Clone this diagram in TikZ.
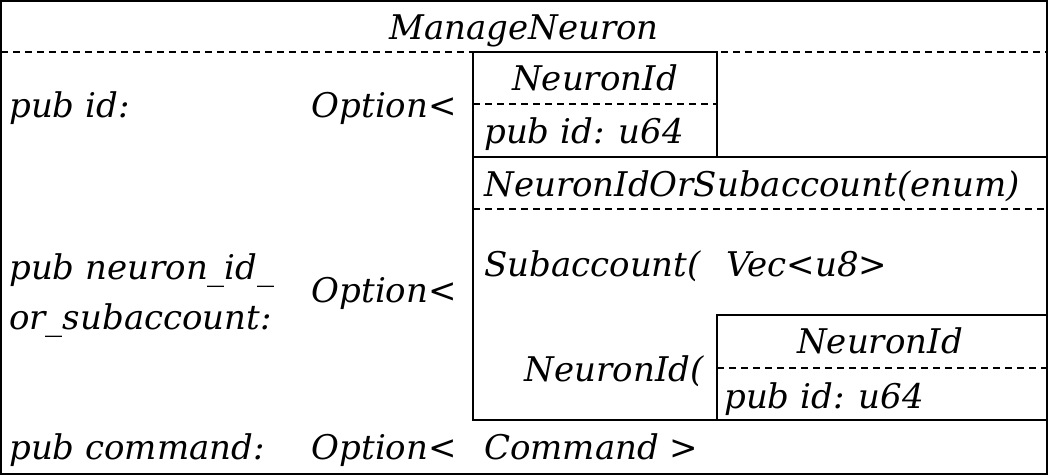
\documentclass[tikz,border=0pt]{standalone}
\usepackage{fontspec}
\setmainfont{DejaVu Serif}[ItalicFont={DejaVu Serif Italic}]
\usetikzlibrary{positioning}

\tikzset{
  txt/.style={inner sep=0pt,font=\fontsize{34}{40}\selectfont\itshape},
  lft/.style={txt,anchor=base west},
  rgt/.style={txt,anchor=base east},
  mid/.style={txt,anchor=base},
  sep/.style={dash pattern=on 7pt off 5pt}
}

\begin{document}
\begin{tikzpicture}[x=1pt,y=-1pt,line width=2.5pt]
  \useasboundingbox (0,0) rectangle (1048,475);
  % outer frame and title
  \draw (1,1) rectangle (1047,474);
  \draw (524,39) node[mid] (title) {ManageNeuron};
  \draw[sep] (1,52) -- (1047,52);
  % pub id
  \draw (8,117) node[lft] (fid) {pub id:};
  \draw (458,117) node[rgt] (opta) {Option<};
  \draw (473,52) rectangle (717,157);
  \draw[sep] (473,104) -- (717,104);
  \draw (595,90) node[mid] (nida) {NeuronId};
  \draw (483,143) node[lft] (pida) {pub id: u64};
  % pub neuron_id_or_subaccount
  \draw (8,279) node[lft] (fnid) {pub neuron\_id\_};
  \draw (8,329) node[lft] (fnidb) {or\_subaccount:};
  \draw (458,302) node[rgt] (optb) {Option<};
  \draw (473,157) rectangle (1047,420);
  \draw (483,196) node[lft] (enum) {NeuronIdOrSubaccount(enum)};
  \draw[sep] (473,209) -- (1047,209);
  \draw (483,276) node[lft] (sub) {Subaccount(};
  \draw (725,276) node[lft] (vec) {Vec<u8>};
  \draw (705,381) node[rgt] (nidc) {NeuronId(};
  \draw (717,315) rectangle (1047,420);
  \draw[sep] (717,368) -- (1047,368);
  \draw (880,353) node[mid] (nidb) {NeuronId};
  \draw (723,408) node[lft] (pidb) {pub id: u64};
  % pub command
  \draw (8,459) node[lft] (fcmd) {pub command:};
  \draw (458,459) node[rgt] (optc) {Option<};
  \draw (483,459) node[lft] (cmd) {Command >};
\end{tikzpicture}
\end{document}
